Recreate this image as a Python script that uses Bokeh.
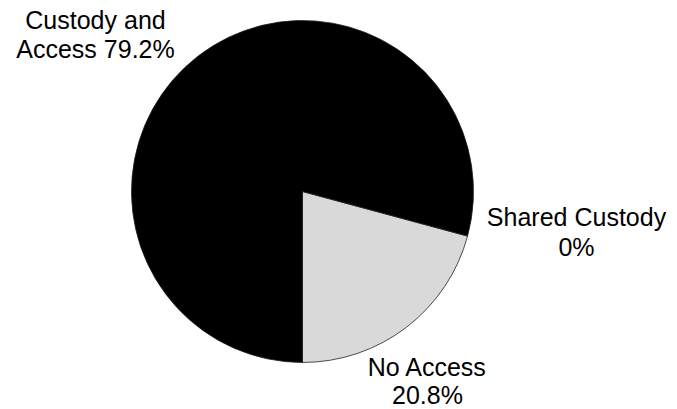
import math
from bokeh.plotting import figure
from bokeh.models import ColumnDataSource, Range1d
from bokeh.core.properties import value
from bokeh.embed import file_html
from bokeh.resources import INLINE

# Data
categories = ["No Access", "Shared Custody", "Custody and Access"]
percentages = [20.8, 0.0, 79.2]
colors = ["#d9d9d9", "#808080", "#000000"]

W, H = 677, 409
p = figure(width=W, height=H, output_backend="svg", toolbar_location=None,
           x_range=Range1d(0, W), y_range=Range1d(0, H), min_border=0,
           outline_line_color=None)
p.axis.visible = False
p.grid.visible = False
p.background_fill_color = "white"
p.border_fill_color = "white"

cx, cy, r = 302, 218, 171
acc = -math.pi / 2
starts, ends, cols = [], [], []
for v, c in zip(percentages, colors):
    s = acc
    acc += v / 100 * 2 * math.pi
    if v > 0:
        starts.append(s); ends.append(acc); cols.append(c)

src = ColumnDataSource(dict(start=starts, end=ends, color=cols))
p.wedge(x=cx, y=cy, radius=r, start_angle="start", end_angle="end",
        fill_color="color", line_color="#222222", line_width=0.8, source=src)

def fmt(v):
    return ("%g" % v) + "%"

labels = {
    "Custody and Access": (["Custody and", "Access " + fmt(percentages[2])], 95, [390, 361]),
    "Shared Custody": (["Shared Custody", fmt(percentages[1])], 576, [193, 163]),
    "No Access": (["No Access", fmt(percentages[0])], 427, [43, 15]),
}
xs, ys, ts = [], [], []
for cat in categories:
    lines, lx, lys = labels[cat]
    for t, yy in zip(lines, lys):
        xs.append(lx); ys.append(yy); ts.append(t)

p.text(x=xs, y=ys, text=ts, text_align="center", text_baseline="middle",
       text_font=value("Liberation Sans"), text_font_size="25px", text_color="black")

open("out.html", "w").write(file_html(p, INLINE))
